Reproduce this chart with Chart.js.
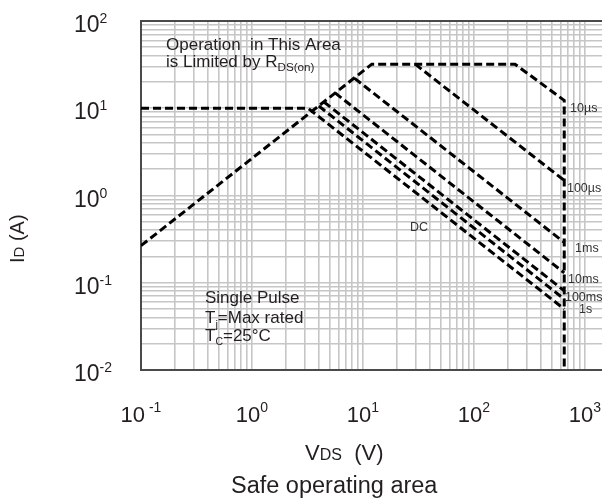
<!DOCTYPE html>
<html>
<head>
<meta charset="utf-8">
<script src="https://cdn.jsdelivr.net/npm/chart.js@4.4.1/dist/chart.umd.min.js"></script>
<style>
  html, body { margin: 0; padding: 0; background: #fff; }
  #wrap { position: relative; width: 602px; height: 503px; }
</style>
</head>
<body>
<div id="wrap"><canvas id="soa" width="602" height="503"></canvas></div>
<script>
// corner points of each limit curve, VDS in V and ID in A
const vds10us = [0.1, 12, 234, 650, 650];
const id10us = [0.266, 32, 32, 12.3, 0.01];
const vds100us = [29.5, 650];
const id100us = [32, 1.49];
const vds1ms = [8.4, 650];
const id1ms = [22, 0.29];
const vds10ms = [5.6, 650];
const id10ms = [15, 0.13];
const vds100ms = [4.45, 650];
const id100ms = [11.8, 0.081];
const vds1s = [4.0, 650];
const id1s = [10.6, 0.065];
const vdsDC = [0.1, 3.2, 650];
const idDC = [10, 10, 0.05];

// decade tick labels
const xDecades = [0.1, 1, 10, 100, 1000];
const xExp = ['-1', '0', '1', '2', '3'];
const yDecades = [0.01, 0.1, 1, 10, 100];
const yExp = ['-2', '-1', '0', '1', '2'];

// curve names and where their labels sit (data units)
const curveNames = ['10µs', '100µs', '1ms', '10ms', '100ms', '1s', 'DC'];
const nameX = [733, 688, 813, 704, 660, 884, 26.5];
const nameY = [10, 1.2, 0.246, 0.108, 0.067, 0.049, 0.43];

const FONT = "'Liberation Sans', Arial, Helvetica, sans-serif";
const INK = '#231f20';

function pts(xs, ys) {
  return xs.map((x, i) => ({ x, y: ys[i] }));
}

function logGrid(decades) {
  const out = [];
  decades.forEach((d, i) => {
    if (i === decades.length - 1) { out.push(d); return; }
    for (let k = 1; k < 10; k++) out.push(+(d * k).toPrecision(3));
  });
  return out;
}

const gridX = logGrid(xDecades);
const gridY = logGrid(yDecades);

function dashed(label, xs, ys) {
  return {
    label,
    data: pts(xs, ys),
    showLine: true,
    borderColor: '#000',
    borderWidth: 3,
    borderDash: [8, 4],
    pointRadius: 0,
    fill: false,
    tension: 0
  };
}

// draw a run of text pieces: [text, size, dy]
function rich(ctx, parts, x, y) {
  let cx = x;
  parts.forEach(([t, size, dy]) => {
    ctx.font = size + 'px ' + FONT;
    ctx.fillText(t, cx, y + (dy || 0));
    cx += ctx.measureText(t).width;
  });
  return cx - x;
}

function richWidth(ctx, parts) {
  let w = 0;
  parts.forEach(([t, size]) => {
    ctx.font = size + 'px ' + FONT;
    w += ctx.measureText(t).width;
  });
  return w;
}

const textPlugin = {
  id: 'soaText',
  beforeDatasetsDraw(chart) {
    const { ctx, chartArea: a } = chart;
    ctx.save();
    ctx.strokeStyle = '#4a4a4a';
    ctx.lineWidth = 2;
    ctx.beginPath();
    ctx.moveTo(a.right + 2, a.top);
    ctx.lineTo(a.left, a.top);
    ctx.lineTo(a.left, a.bottom);
    ctx.lineTo(a.right + 2, a.bottom);
    ctx.stroke();
    ctx.restore();
  },
  afterDraw(chart) {
    const { ctx, chartArea: a } = chart;
    const xs = chart.scales.x, ys = chart.scales.y;
    ctx.save();
    ctx.fillStyle = INK;
    ctx.textBaseline = 'alphabetic';
    ctx.textAlign = 'left';

    // y tick labels
    yDecades.forEach((v, i) => {
      const py = ys.getPixelForValue(v);
      rich(ctx, [['10', 23, 0], [yExp[i], 14, -9]], 74, py + 11);
    });

    // x tick labels
    xDecades.forEach((v, i) => {
      const px = xs.getPixelForValue(v);
      const parts = [['10', 22, 0], [(i === 0 ? ' ' : '') + xExp[i], 14, -10]];
      const w = richWidth(ctx, parts);
      rich(ctx, parts, px - w / 2, 422);
    });

    // axis titles
    rich(ctx, [['V', 22, 0], ['DS', 16, 0], ['  (V)', 22, 0]], 305, 460);
    ctx.font = '23.5px ' + FONT;
    ctx.fillText('Safe operating area', 231, 493);

    ctx.save();
    ctx.translate(24, 263);
    ctx.rotate(-Math.PI / 2);
    rich(ctx, [['I', 20, 0], ['D', 15, 0], [' (A)', 20, 0]], 0, 0);
    ctx.restore();

    // notes inside the plot
    const L = a.left;
    rich(ctx, [['Operation  in This Area', 17, 0]], L + 25, a.top + 29);
    rich(ctx, [['is Limited by R', 17, 0], ['DS(on)', 11.7, 4]], L + 25, a.top + 46);
    rich(ctx, [['Single Pulse', 17, 0]], L + 64, 303);
    rich(ctx, [['T', 17, 0], ['j', 11, 5], ['=Max rated', 17, 0]], L + 64, 323);
    rich(ctx, [['T', 17, 0], ['C', 10.5, 4], ['=25°C', 17, 0]], L + 64, 341);

    // curve names
    ctx.fillStyle = '#333';
    ctx.font = '12.5px ' + FONT;
    ctx.textBaseline = 'middle';
    curveNames.forEach((n, i) => {
      ctx.fillText(n, xs.getPixelForValue(nameX[i]), ys.getPixelForValue(nameY[i]));
    });
    ctx.restore();
  }
};

const gridStyle = { color: '#c6c6c6', lineWidth: 1.6, drawTicks: false };

new Chart(document.getElementById('soa'), {
  type: 'scatter',
  data: {
    datasets: [
      dashed('10µs', vds10us, id10us),
      dashed('100µs', vds100us, id100us),
      dashed('1ms', vds1ms, id1ms),
      dashed('10ms', vds10ms, id10ms),
      dashed('100ms', vds100ms, id100ms),
      dashed('1s', vds1s, id1s),
      dashed('DC', vdsDC, idDC)
    ]
  },
  options: {
    responsive: false,
    animation: false,
    devicePixelRatio: 1,
    layout: { padding: { left: 141, top: 21, right: 0, bottom: 133 } },
    plugins: { legend: { display: false }, tooltip: { enabled: false } },
    scales: {
      x: {
        type: 'logarithmic',
        min: 0.1,
        max: 1423,
        afterBuildTicks: s => { s.ticks = gridX.map(v => ({ value: v })); },
        grid: gridStyle,
        border: { display: false },
        ticks: { display: false }
      },
      y: {
        type: 'logarithmic',
        min: 0.01,
        max: 100,
        afterBuildTicks: s => { s.ticks = gridY.map(v => ({ value: v })); },
        grid: gridStyle,
        border: { display: false },
        ticks: { display: false }
      }
    }
  },
  plugins: [textPlugin]
});
</script>
</body>
</html>
